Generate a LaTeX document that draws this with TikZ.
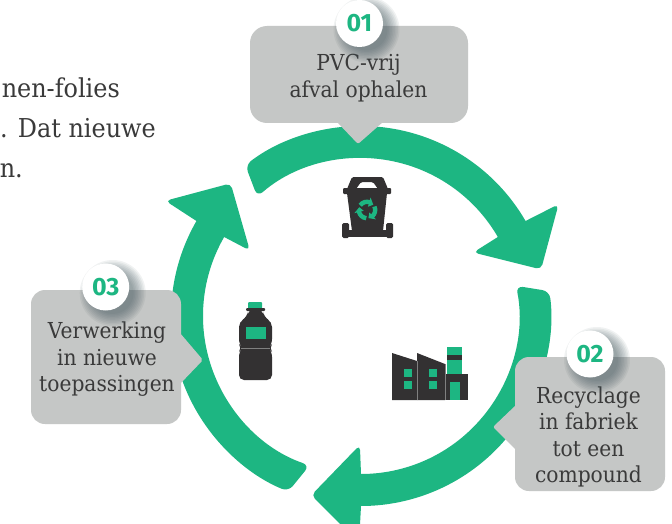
\documentclass[tikz,border=0pt]{standalone}
\usepackage{fontspec}
\setmainfont{DejaVu Serif}[FakeStretch=0.92]
\newfontfamily\numfont{Fira Sans}
\definecolor{loopgreen}{HTML}{1DB682}
\definecolor{boxgrey}{HTML}{C5C7C6}
\definecolor{icondark}{HTML}{333132}
\definecolor{inktext}{HTML}{3A3A3A}
\definecolor{shadowgrey}{HTML}{3F5158}
\begin{document}
\begin{tikzpicture}[x=1pt,y=-1pt,
    bodytext/.style={font=\fontsize{22}{26.5}\selectfont,text=inktext,align=center,inner sep=0pt},
    introtext/.style={font=\fontsize{26}{30}\selectfont,text=inktext,anchor=base east,inner sep=0pt},
    badge/.style={circle,fill=white,minimum size=47pt,inner sep=0pt,text=loopgreen,font=\numfont\bfseries\fontsize{25}{25}\selectfont},
    callout/.style={fill=boxgrey,rounded corners=14pt},
    dark/.style={fill=icondark},
    green/.style={fill=loopgreen}]
    \clip (0,0) rectangle (672,524);
    \fill[white] (0,0) rectangle (672,524);
    %% intro text, cut off at the left
    \node[introtext] (intro1) at (120,98) {nen-folies};
    \node[introtext] (intro2) at (156,138) {. Dat nieuwe};
    \node[introtext] (intro3) at (23,178) {n.};
    %% three arrows of the loop
    \begin{scope}[shift={(361,316)}]
        \foreach \a in {-30,90,210} {
            \fill[loopgreen] (\a-101:158) arc[start angle=\a-101,end angle=\a,radius=158]
                [rounded corners=5pt] -- (\a+0.5:129) -- (\a+15.5:186) -- (\a+0.5:227)
                [sharp corners] -- (\a:190)
                [rounded corners=7pt] arc[start angle=\a,end angle=\a-97.5,radius=190] -- cycle;
        }
    \end{scope}
    %% callouts
    \fill[callout,rounded corners=17pt] (250,26) -- (468,26) -- (468,123) -- (250,123) -- cycle;
    \fill[boxgrey,rounded corners=2pt] (337,122) -- (358,144) -- (383,122) -- cycle;
    \fill[callout] (515,357) -- (665,357) -- (665,491) -- (515,491) -- cycle;
    \fill[boxgrey,rounded corners=2pt] (516,405) -- (493,427) -- (516,450) -- cycle;
    \fill[callout] (31,290) -- (181,290) -- (181,424) -- (31,424) -- cycle;
    \fill[boxgrey,rounded corners=2pt] (180,333) -- (203,360) -- (180,384) -- cycle;
    \node[bodytext] (step1) at (358.5,78) {PVC-vrij\\afval ophalen};
    \node[bodytext] (step2) at (588.5,437) {Recyclage\\in fabriek\\tot een\\compound};
    \node[bodytext] (step3) at (107,359.5) {Verwerking\\in nieuwe\\toepassingen};
    %% shadows and numbers
    \foreach \cx/\cy/\lab/\nm in {359.5/23.5/01/num1,590/354/02/num2,105.7/287/03/num3} {
        \foreach \r in {33,31.5,...,21} {
            \fill[shadowgrey,opacity=0.075] (\cx+7,\cy+6) circle (\r);
        }
        \node[badge] (\nm) at (\cx,\cy) {\lab};
    }
    %% waste bin
    \fill[dark,even odd rule,rounded corners=1.5pt] (347,189) -- (352,177) -- (383,177) -- (388,189) -- cycle
        (356,189) -- (361,182) -- (373,182) -- (378,189) -- cycle;
    \fill[dark,rounded corners=1pt] (343,188) rectangle (391,194);
    \fill[dark] (347,193) -- (387,193) -- (383,231) -- (352,231) -- cycle;
    \fill[dark] (344,230) rectangle (391,237);
    \fill[dark,rounded corners=1.5pt] (342,223) rectangle (349,238);
    \fill[dark,rounded corners=1.5pt] (386,223) rectangle (393,238);
    \begin{scope}[shift={(367,210)}]
        \foreach \t in {30,150,270} {
            \draw[loopgreen,line width=4.4pt] (\t-55:8.2) arc[start angle=\t-55,end angle=\t+20,radius=8.2];
            \fill[loopgreen] (\t+16:3.4) -- (\t+16:13) -- (\t+50:8.2) -- cycle;
        }
    \end{scope}
    %% factory
    \fill[dark] (392,353) -- (417,361) -- (417,400) -- (392,400) -- cycle;
    \fill[dark] (417,353) -- (445,364) -- (445,400) -- (417,400) -- cycle;
    \fill[dark] (445,374) rectangle (468,400);
    \draw[gray,line width=0.5pt] (417,361) -- (417,400);
    \draw[gray,line width=0.5pt] (445,364) -- (445,400);
    \fill[green] (447,347) rectangle (462,374);
    \fill[dark] (447,355) rectangle (462,360);
    \fill[green] (450,382) rectangle (460,400);
    \foreach \wx in {404,429} {
        \fill[green] (\wx,369) rectangle ++(8,8);
        \fill[green] (\wx,381) rectangle ++(8,8);
    }
    %% bottle
    \fill[green,rounded corners=1pt] (248,302) rectangle (262,309);
    \fill[dark,rounded corners=1pt] (246,308) rectangle (265,311);
    \fill[dark,rounded corners=5pt] (248,310) -- (263,310) -- (264,317) -- (272,322) -- (272,344)
        -- (269,348) -- (272,352) -- (272,380) -- (239,380) -- (239,352) -- (242,348) -- (239,344)
        -- (239,322) -- (247,317) -- cycle;
    \draw[gray,line width=0.4pt] (241,348) -- (270,348);
    \fill[green] (246,327) rectangle (266,339);
\end{tikzpicture}
\end{document}
